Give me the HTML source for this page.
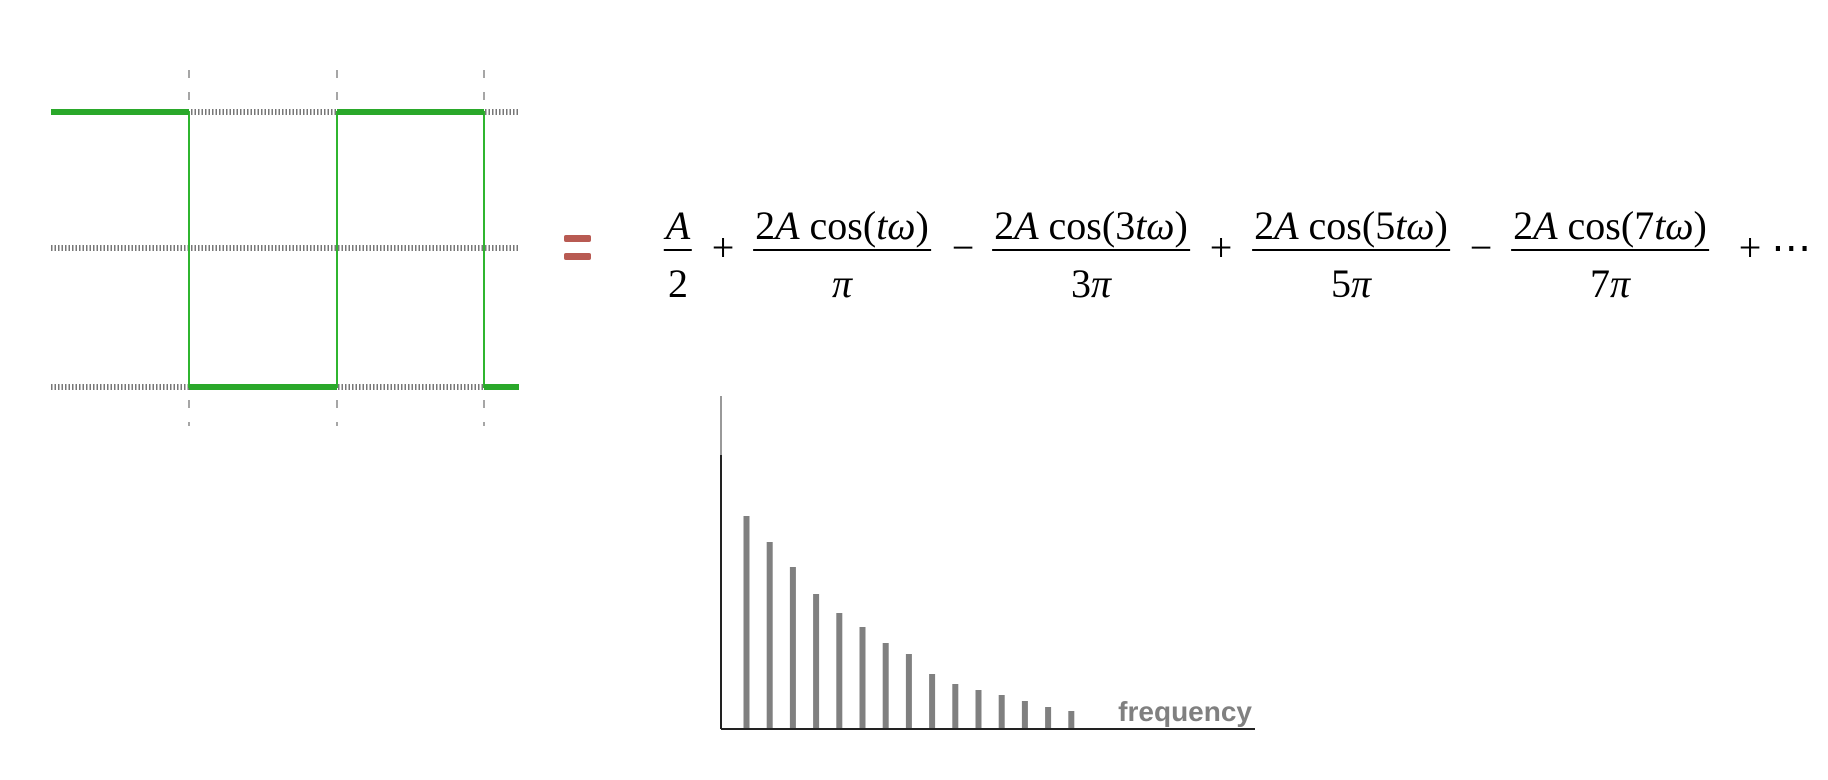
<!DOCTYPE html>
<html><head><meta charset="utf-8"><style>
body{margin:0;width:1828px;height:780px;background:#fff;position:relative;overflow:hidden;font-family:"Liberation Serif",serif}
.t{position:absolute;font-size:40px;line-height:46px;color:#000;white-space:nowrap;transform:translateX(-50%)}
.fr{position:absolute;top:203px;display:flex;flex-direction:column;align-items:center;font-size:40px;line-height:46px;transform:translateX(-50%);white-space:nowrap}
.fr .n{padding:0 2px;border-bottom:2px solid #000}
.fr .d{margin-top:10px}
i{font-style:italic}
</style></head><body>
<svg width="1828" height="780" style="position:absolute;left:0;top:0">
<g>
 <g stroke="#888" stroke-width="1.5" stroke-dasharray="8,14">
  <line x1="189" y1="70" x2="189" y2="426"/>
  <line x1="337" y1="70" x2="337" y2="426"/>
  <line x1="484" y1="70" x2="484" y2="426"/>
 </g>
 <g stroke="#777" stroke-width="6" stroke-dasharray="1.5,2">
  <line x1="51" y1="112" x2="519" y2="112"/>
  <line x1="51" y1="248" x2="519" y2="248"/>
  <line x1="51" y1="387" x2="519" y2="387"/>
 </g>
 <polyline points="51,112 189,112 189,387 337,387 337,112 484,112 484,387 519,387" fill="none" stroke="#2fb52f" stroke-width="2"/>
 <g stroke="#2aa82a" stroke-width="6">
  <line x1="51" y1="112" x2="189" y2="112"/><line x1="337" y1="112" x2="484" y2="112"/>
  <line x1="189" y1="387" x2="337" y2="387"/><line x1="484" y1="387" x2="519" y2="387"/>
 </g>
</g>
<g fill="#b85a52">
 <rect x="564" y="235" width="27" height="7" rx="2"/><rect x="564" y="253" width="27" height="7" rx="2"/>
</g>
<g id="spec"></g>
</svg>
<div class="fr" style="left:678px"><span class="n"><i>A</i></span><span class="d">2</span></div>
<div class="t" style="left:723px;top:225px">+</div>
<div class="fr" style="left:842px"><span class="n">2<i>A</i> cos(<i>tω</i>)</span><span class="d"><i>π</i></span></div>
<div class="t" style="left:963px;top:225px">−</div>
<div class="fr" style="left:1091px"><span class="n">2<i>A</i> cos(3<i>tω</i>)</span><span class="d">3<i>π</i></span></div>
<div class="t" style="left:1221px;top:225px">+</div>
<div class="fr" style="left:1351px"><span class="n">2<i>A</i> cos(5<i>tω</i>)</span><span class="d">5<i>π</i></span></div>
<div class="t" style="left:1481px;top:225px">−</div>
<div class="fr" style="left:1610px"><span class="n">2<i>A</i> cos(7<i>tω</i>)</span><span class="d">7<i>π</i></span></div>
<div class="t" style="left:1775px;top:225px">+ ⋯</div>
<script>
const harmonics=[1,2,3,4,5,6,7,8,9,10,11,12,13,14,15];
const magnitudes=[213,187,162,135,116,102,86,75,55,45,39,34,28,22,18];
const xAxisLabel='frequency';
const NS='http://www.w3.org/2000/svg';
const g=document.getElementById('spec');
const x0=721,y0=729,xEnd=1255;
const xs=h=>746.5+(h-1)*23.2;
const ys=v=>y0-v;
function mk(t,a){const e=document.createElementNS(NS,t);for(const k in a)e.setAttribute(k,a[k]);g.appendChild(e);return e;}
const ya=mk('line',{x1:x0,y1:396,x2:x0,y2:y0,stroke:'#999','stroke-width':2});


const yb=mk('line',{x1:x0,y1:455,x2:x0,y2:y0,stroke:'#222','stroke-width':2});


harmonics.forEach((h,i)=>{
 const r=mk('rect',{x:xs(h)-3,y:ys(magnitudes[i]),width:6,height:magnitudes[i],fill:'#808080'});
 
 
});
const xa=mk('line',{x1:x0,y1:y0,x2:xEnd,y2:y0,stroke:'#222','stroke-width':2});


const tx=mk('text',{x:1252,y:721,'text-anchor':'end',fill:'#808080','font-family':'Liberation Sans, sans-serif','font-size':'28','font-weight':'bold'});
tx.textContent=xAxisLabel;


</script>
</body></html>
